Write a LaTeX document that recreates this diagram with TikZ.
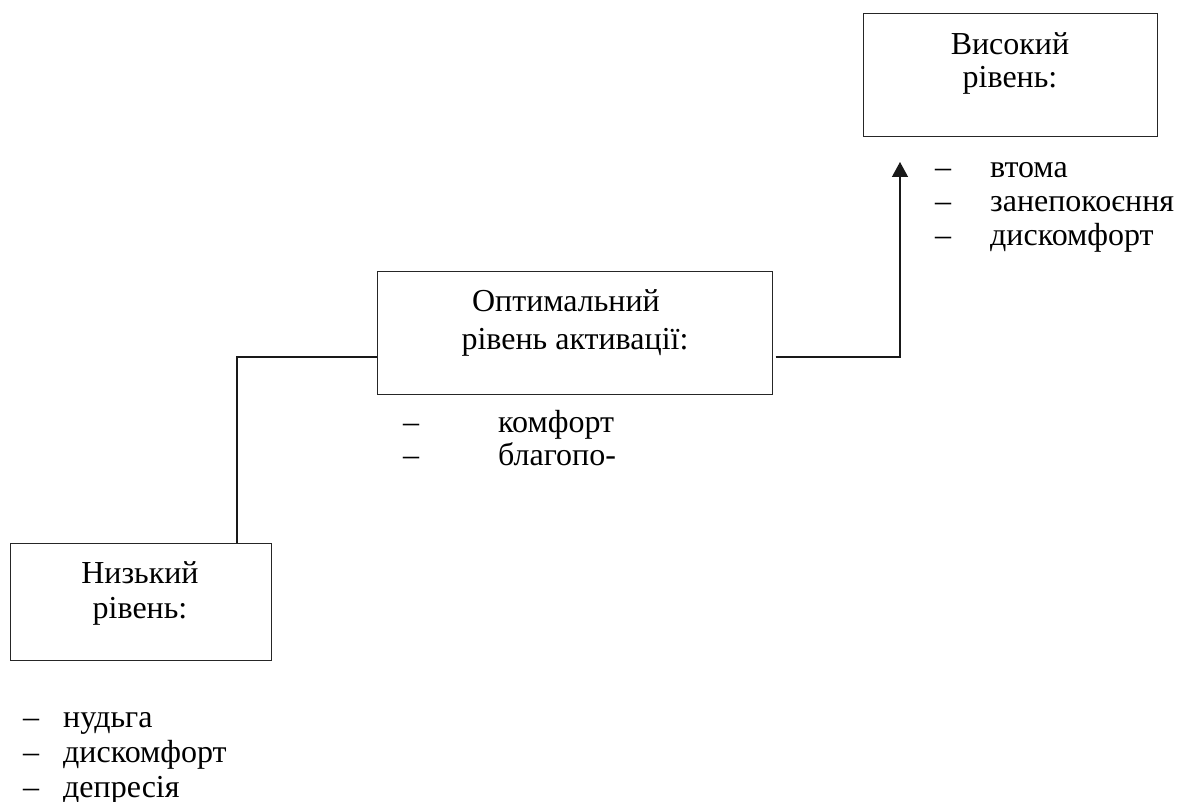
\documentclass[tikz,border=0pt]{standalone}
\usepackage{fontspec}
\setmainfont{Liberation Serif}
\usetikzlibrary{arrows.meta}
\tikzset{
  box/.style={draw=black!85, line width=1pt, rectangle, inner sep=0pt},
  txt/.style={inner sep=0pt, anchor=base, font=\fontsize{32}{36}\selectfont},
  item/.style={inner sep=0pt, anchor=base west, font=\fontsize{32}{36}\selectfont},
  conn/.style={draw=black!90, line width=1.3pt},
}
\begin{document}
\begin{tikzpicture}[x=1pt,y=-1pt]
\useasboundingbox (0,0) rectangle (1179,802);
% boxes
\node[box, minimum width=294pt, minimum height=123pt] (high) at (1010,75.5) {};
\node[box, minimum width=395pt, minimum height=123pt] (mid) at (574.5,333.5) {};
\node[box, minimum width=261pt, minimum height=117pt] (low) at (140.5,601.5) {};
% box texts
\node[txt] (h1) at (1010,55) {Високий};
\node[txt] (h2) at (1010,88) {рівень:};
\node[txt] (m1) at (566,312) {Оптимальний};
\node[txt] (m2) at (575,350) {рівень активації:};
\node[txt] (l1) at (140,583) {Низький};
\node[txt] (l2) at (140,618) {рівень:};
% lists
\node[item] (hi1) at (935,178) {\makebox[55pt][l]{–}втома};
\node[item] (hi2) at (935,212) {\makebox[55pt][l]{–}занепокоєння};
\node[item] (hi3) at (935,246) {\makebox[55pt][l]{–}дискомфорт};
\node[item] (mi1) at (403,433) {\makebox[95pt][l]{–}комфорт};
\node[item] (mi2) at (403,465) {\makebox[95pt][l]{–}благопо-};
\node[item] (li1) at (23,727) {\makebox[40pt][l]{–}нудьга};
\node[item] (li2) at (23,762) {\makebox[40pt][l]{–}дискомфорт};
\node[item] (li3) at (23,797) {\makebox[40pt][l]{–}депресія};
% connectors
\coordinate (j1) at (237,357);
\coordinate (tip) at (900,162);
\draw[conn] (low.north -| j1) -- (j1) -- (mid.west |- j1);
\draw[conn, -{Triangle[width=16pt,length=15pt]}] ([xshift=3pt]mid.east |- j1) -| (tip);
\end{tikzpicture}
\end{document}
